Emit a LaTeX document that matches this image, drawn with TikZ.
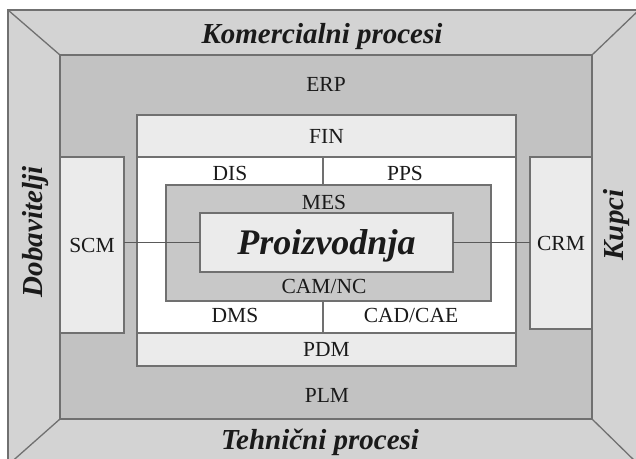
\documentclass[tikz,border=0pt]{standalone}
\usepackage{fontspec}
\setmainfont{Liberation Serif}
\definecolor{outergray}{HTML}{D3D3D3}
\definecolor{erpgray}{HTML}{C2C2C2}
\definecolor{palegray}{HTML}{EBEBEB}
\definecolor{mesgray}{HTML}{C8C8C8}
\definecolor{edgegray}{HTML}{707070}
\definecolor{inkgray}{HTML}{1A1A1A}
\tikzset{
  edge/.style={draw=edgegray,line width=1.3pt},
  link/.style={draw=edgegray!80!black,line width=1pt},
  layer/.style={edge,inner sep=0pt,outer sep=0pt},
  lbl/.style={text=inkgray,inner sep=0pt,text height=14.2pt,text depth=0pt,
    font=\fontsize{21.5}{24}\selectfont},
  side/.style={text=inkgray,inner sep=0pt,text height=19.2pt,text depth=0pt,
    font=\fontsize{29}{32}\selectfont\bfseries\itshape},
  prod/.style={text=inkgray,inner sep=0pt,text height=23.8pt,text depth=0pt,
    font=\fontsize{36}{40}\selectfont\bfseries\itshape}
}
\begin{document}
\begin{tikzpicture}[x=1pt,y=-1pt]
    \useasboundingbox (0,0) rectangle (636,458);

    \node[layer,fill=outergray,minimum width=631pt,minimum height=455pt] (outer) at (323.5,237.5) {};
    \node[layer,fill=erpgray,minimum width=532pt,minimum height=364pt] (erp) at (326,237) {};
    \foreach \c in {north west,north east,south west,south east}
        \draw[edge] (outer.\c) -- (erp.\c);

    \node[layer,fill=palegray,minimum width=64pt,minimum height=176pt,lbl] (scm) at (92,245) {SCM};
    \node[layer,fill=palegray,minimum width=62pt,minimum height=172pt,lbl] (crm) at (561,243) {CRM};

    \node[layer,fill=white,minimum width=379pt,minimum height=251pt] (core) at (326.5,240.5) {};
    \node[layer,fill=palegray,minimum width=379pt,minimum height=42pt,lbl] (fin) at (326.5,136) {FIN};
    \node[layer,fill=palegray,minimum width=379pt,minimum height=33pt,lbl] (pdm) at (326.5,349.5) {PDM};
    \node[layer,fill=mesgray,minimum width=325pt,minimum height=116pt] (mes) at (328.5,243) {};
    \node[layer,fill=palegray,minimum width=253pt,minimum height=59pt,prod] (prodbox) at (326.5,242.5) {Proizvodnja};

    \draw[edge] (fin.south -| 323,0) -- (mes.north -| 323,0);
    \draw[edge] (mes.south -| 323,0) -- (pdm.north -| 323,0);
    \draw[link] (scm.east |- prodbox.west) -- (prodbox.west);
    \draw[link] (prodbox.east) -- (crm.west |- prodbox.east);

    \begin{scope}[every node/.style={lbl}]
        \node (erplbl) at (326,84) {ERP};
        \node (dis) at (230,173.5) {DIS};
        \node (pps) at (405,173.5) {PPS};
        \node (meslbl) at (324,202.5) {MES};
        \node (camnc) at (324,286.5) {CAM/NC};
        \node (dms) at (235,315.5) {DMS};
        \node (cadcae) at (411,315.5) {CAD/CAE};
        \node (plm) at (327,395) {PLM};
    \end{scope}

    \begin{scope}[every node/.style={side}]
        \node (komerc) at (322,33.5) {Komercialni procesi};
        \node (tehn) at (320,440) {Tehnični procesi};
        \node[rotate=90] (dobav) at (33,232) {Dobavitelji};
        \node[rotate=90] (kupci) at (614,225) {Kupci};
    \end{scope}
\end{tikzpicture}
\end{document}
